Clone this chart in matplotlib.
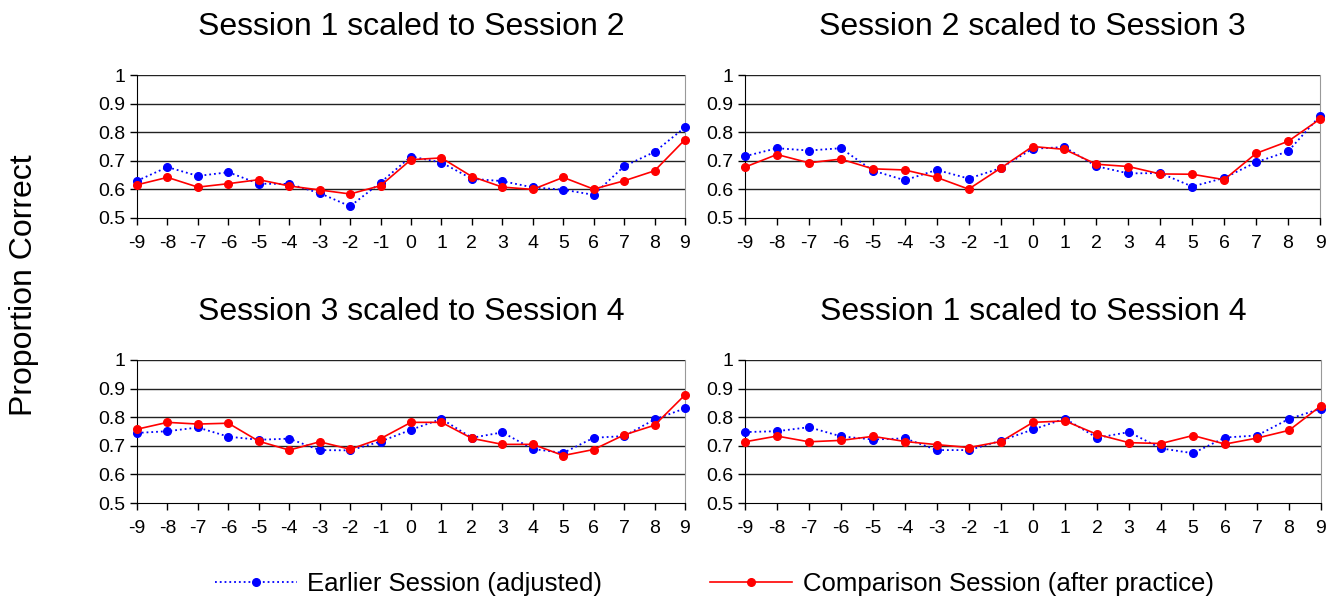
import matplotlib.pyplot as plt
from matplotlib.lines import Line2D

plt.rcParams['font.family'] = ['Liberation Sans', 'DejaVu Sans']

# Datos
x = list(range(-9, 10))
titles = ['Session 1 scaled to Session 2', 'Session 2 scaled to Session 3',
          'Session 3 scaled to Session 4', 'Session 1 scaled to Session 4']

earlier_1_2 = [0.630, 0.678, 0.647, 0.660, 0.620, 0.619, 0.587, 0.541, 0.624, 0.715,
               0.694, 0.637, 0.629, 0.607, 0.599, 0.581, 0.681, 0.731, 0.817]
compare_1_2 = [0.616, 0.642, 0.608, 0.620, 0.634, 0.612, 0.598, 0.584, 0.613, 0.704,
               0.710, 0.645, 0.608, 0.600, 0.642, 0.601, 0.630, 0.665, 0.774]

earlier_2_3 = [0.716, 0.744, 0.736, 0.744, 0.666, 0.632, 0.668, 0.638, 0.674, 0.742,
               0.748, 0.681, 0.656, 0.657, 0.610, 0.640, 0.695, 0.733, 0.857]
compare_2_3 = [0.678, 0.722, 0.693, 0.706, 0.672, 0.668, 0.642, 0.601, 0.674, 0.750,
               0.740, 0.688, 0.680, 0.654, 0.653, 0.634, 0.726, 0.768, 0.846]

earlier_3_4 = [0.745, 0.751, 0.764, 0.732, 0.721, 0.725, 0.685, 0.684, 0.715, 0.756,
               0.794, 0.728, 0.747, 0.689, 0.675, 0.728, 0.734, 0.792, 0.831]
compare_3_4 = [0.758, 0.782, 0.776, 0.779, 0.716, 0.685, 0.714, 0.688, 0.725, 0.782,
               0.782, 0.726, 0.705, 0.705, 0.666, 0.687, 0.738, 0.772, 0.878]

earlier_1_4 = [0.748, 0.751, 0.765, 0.733, 0.722, 0.726, 0.685, 0.685, 0.718, 0.757,
               0.795, 0.728, 0.748, 0.691, 0.674, 0.729, 0.736, 0.794, 0.830]
compare_1_4 = [0.714, 0.734, 0.714, 0.719, 0.733, 0.715, 0.704, 0.694, 0.715, 0.782,
               0.787, 0.740, 0.711, 0.708, 0.736, 0.706, 0.727, 0.754, 0.840]

earlier = [earlier_1_2, earlier_2_3, earlier_3_4, earlier_1_4]
compare = [compare_1_2, compare_2_3, compare_3_4, compare_1_4]

yticks = [0.5, 0.6, 0.7, 0.8, 0.9, 1.0]
ytick_labels = ['0.5', '0.6', '0.7', '0.8', '0.9', '1']

fig = plt.figure(figsize=(13.4, 6.05), dpi=100)

# posiciones de los paneles en pixeles (izq, arriba, der, abajo)
W, H = 1340, 605
boxes = [(137, 75, 685, 218), (745, 75, 1320, 218),
         (137, 360, 685, 503), (745, 360, 1321, 503)]

for i, (l, t, r, b) in enumerate(boxes):
    ax = fig.add_axes([l / W, 1 - b / H, (r - l) / W, (b - t) / H])
    ax.set_xlim(-9, 9)
    ax.set_ylim(0.5, 1.0)
    for yv in yticks[1:]:
        ax.axhline(yv, color='#222222', lw=1.0, zorder=1)
    ax.plot(x, earlier[i], color='blue', ls=':', lw=1.3, marker='o',
            markersize=5.5, zorder=3, clip_on=False)
    ax.plot(x, compare[i], color='red', ls='-', lw=1.2, marker='o',
            markersize=5.5, zorder=4, clip_on=False)
    ax.set_xticks(x)
    ax.set_xticklabels([str(v) for v in x])
    ax.set_yticks(yticks)
    ax.set_yticklabels(ytick_labels)
    ax.tick_params(axis='both', labelsize=14, length=5, direction='out', width=1)
    ax.tick_params(axis='x', pad=7)
    ax.spines['top'].set_visible(False)
    ax.spines['right'].set_color('#999999')
    ax.spines['left'].set_color('black')
    ax.spines['bottom'].set_color('black')
    ax.set_title(titles[i], fontsize=23, pad=29)

fig.text(0.018, 0.529, 'Proportion Correct', rotation=90, fontsize=23,
         ha='center', va='center')

handles = [
    Line2D([], [], color='blue', ls=':', lw=1.3, marker='o', markersize=5.5),
    Line2D([], [], color='red', ls='-', lw=1.2, marker='o', markersize=5.5),
]
fig.legend(handles, ['Earlier Session (adjusted)', 'Comparison Session (after practice)'],
           loc='center', bbox_to_anchor=(0.533, 1 - 584 / H), ncol=2, frameon=False,
           fontsize=18.5, columnspacing=4.2, handlelength=3.2, handletextpad=0.4)

fig.savefig('out.png', dpi=100)
